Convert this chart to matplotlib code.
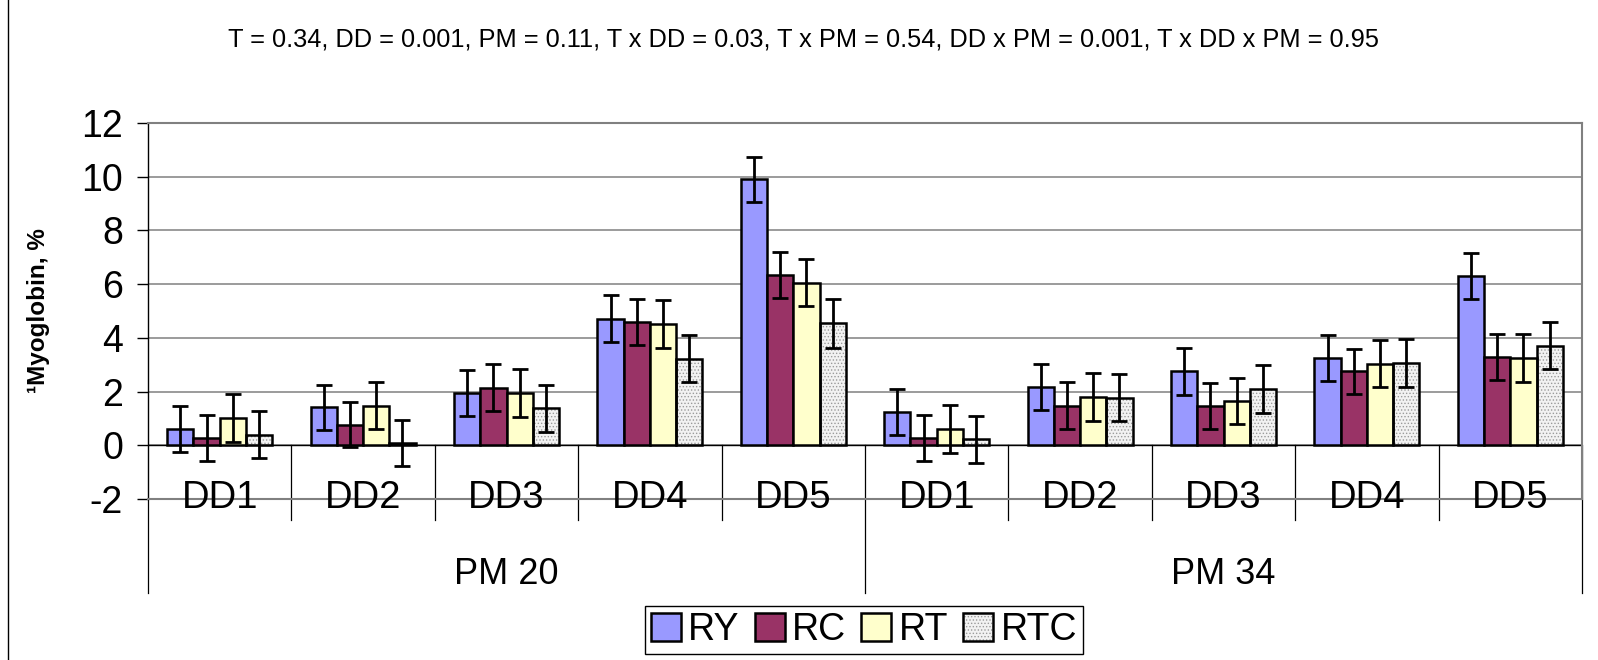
import matplotlib
matplotlib.use("Agg")
import matplotlib.pyplot as plt
import matplotlib.patches as mpatches
from matplotlib.legend_handler import HandlerTuple
import numpy as np

plt.rcParams['font.family'] = ['Liberation Sans', 'DejaVu Sans']
plt.rcParams['hatch.linewidth'] = 0.6
plt.rcParams['axes.unicode_minus'] = False

# Data
days = ['DD1', 'DD2', 'DD3', 'DD4', 'DD5', 'DD1', 'DD2', 'DD3', 'DD4', 'DD5']
groups = ['PM 20', 'PM 34']
series = ['RY', 'RC', 'RT', 'RTC']

ry = [0.62, 1.41, 1.95, 4.72, 9.9, 1.23, 2.18, 2.75, 3.25, 6.3]
rc = [0.27, 0.76, 2.15, 4.6, 6.35, 0.26, 1.48, 1.45, 2.75, 3.3]
rt = [1.02, 1.48, 1.95, 4.52, 6.06, 0.61, 1.8, 1.65, 3.04, 3.25]
rtc = [0.4, 0.09, 1.38, 3.22, 4.54, 0.22, 1.77, 2.1, 3.06, 3.71]

ry_err = [0.86, 0.85, 0.86, 0.86, 0.85, 0.85, 0.86, 0.86, 0.86, 0.86]
rc_err = [0.85, 0.84, 0.86, 0.86, 0.86, 0.85, 0.86, 0.86, 0.85, 0.86]
rt_err = [0.88, 0.88, 0.88, 0.88, 0.89, 0.88, 0.88, 0.86, 0.88, 0.88]
rtc_err = [0.87, 0.87, 0.88, 0.88, 0.9, 0.88, 0.88, 0.88, 0.88, 0.88]

title_text = ('T = 0.34, DD = 0.001, PM = 0.11, T x DD = 0.03, T x PM = 0.54, '
              'DD x PM = 0.001, T x DD x PM = 0.95')

values = [ry, rc, rt, rtc]
errors = [ry_err, rc_err, rt_err, rtc_err]
colors = ['#9999FF', '#993366', '#FFFFCC', '#F2F2F2']

W, H = 1598, 660
fig = plt.figure(figsize=(W / 100, H / 100), dpi=100)
ax = fig.add_axes([148 / W, 1 - 499 / H, (1582 - 148) / W, (499 - 123) / H])

x = np.arange(len(days))
bw = 0.183
offsets = [-1.5, -0.5, 0.5, 1.5]

handles = []
for i, name in enumerate(series):
    xs = x + offsets[i] * bw
    if name == 'RTC':
        ax.bar(xs, values[i], bw, color=colors[i], edgecolor='#9a9a9a',
               hatch='.....', linewidth=0, zorder=2)
        ax.bar(xs, values[i], bw, fill=False, edgecolor='black',
               linewidth=1.8, zorder=3)
        h1 = mpatches.Patch(facecolor=colors[i], edgecolor='#9a9a9a', hatch='.....', linewidth=0)
        h2 = mpatches.Patch(fill=False, edgecolor='black', linewidth=1.8)
        handles.append((h1, h2))
    else:
        ax.bar(xs, values[i], bw, color=colors[i], edgecolor='black',
               linewidth=1.8, zorder=3)
        handles.append(mpatches.Patch(facecolor=colors[i], edgecolor='black', linewidth=1.8))
    ax.errorbar(xs, values[i], yerr=errors[i], fmt='none', ecolor='black',
                elinewidth=2, capsize=5.5, capthick=2, zorder=4)

ax.set_xlim(-0.5, 9.5)
ax.set_ylim(-2, 12)
ax.set_yticks(np.arange(-2, 13, 2))
ax.yaxis.grid(True, color='#808080', linewidth=1.1)
ax.set_axisbelow(True)
ax.set_xticks([])
ax.tick_params(axis='y', direction='out', length=8, width=1, labelsize=27, pad=10)
ax.axhline(0, color='black', linewidth=1, zorder=2.5)

for side in ['top', 'right', 'bottom']:
    ax.spines[side].set_color('#808080')
    ax.spines[side].set_linewidth(1.5)
ax.spines['left'].set_color('black')
ax.spines['left'].set_linewidth(1)

ax.set_ylabel('¹Myoglobin, %', fontsize=17.5, fontweight='bold')
ax.yaxis.set_label_coords(-0.068, 0.5)

# multi-level category axis below the plot
for k in range(1, 10):
    if k == 5:
        continue
    ax.plot([k - 0.5, k - 0.5], [0, -2.77], color='black', linewidth=0.9, clip_on=False)
for k in [-0.5, 4.5, 9.5]:
    ax.plot([k, k], [0 if k != -0.5 else -2, -5.5], color='black', linewidth=0.9, clip_on=False)

for i, d in enumerate(days):
    ax.text(i, -1.98, d, ha='center', va='center', fontsize=27.5, clip_on=False)
for j, g in enumerate(groups):
    ax.text(2 + 5 * j, -4.8, g, ha='center', va='center', fontsize=26, clip_on=False)

fig.text(804 / W, 1 - 39 / H, title_text, ha='center', va='center', fontsize=18.3)

# chart area border on the left
fig.add_artist(plt.Line2D([8 / W, 8 / W], [0, 1], color='black', linewidth=1))

leg = fig.legend(handles, series, loc='center', bbox_to_anchor=(864 / W, 1 - 630 / H),
                 ncol=4, fontsize=27, frameon=True, fancybox=False, framealpha=1,
                 edgecolor='black', handlelength=0.8, handleheight=0.8,
                 handletextpad=0.2, columnspacing=0.4, borderpad=0.15,
                 borderaxespad=0, handler_map={tuple: HandlerTuple(ndivide=1)})
leg.get_frame().set_linewidth(1)

fig.savefig('out.png', dpi=100)
